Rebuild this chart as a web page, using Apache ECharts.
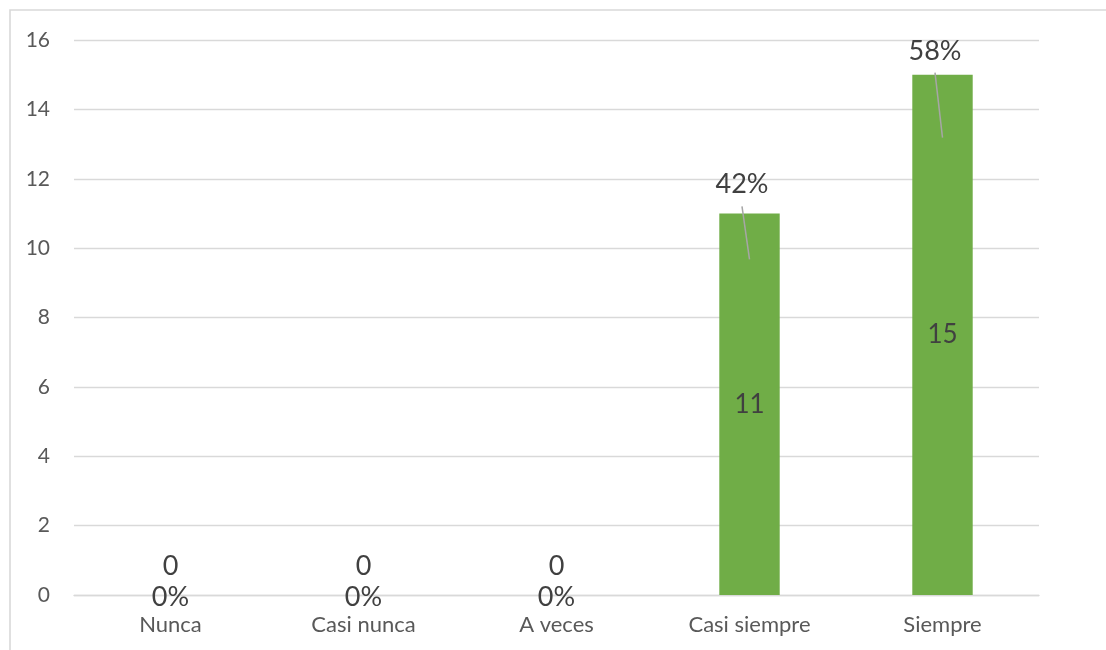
<!DOCTYPE html>
<html>
<head>
<meta charset="utf-8">
<title>Frecuencia de respuestas</title>
<script src="https://cdn.jsdelivr.net/npm/echarts@6/dist/echarts.min.js"></script>
<style>
  html, body { margin: 0; padding: 0; background: #ffffff; }
  #chart { width: 1106px; height: 650px; }
</style>
</head>
<body>
<div id="chart"></div>
<script>
// Response options and how many people chose each one
const categories = ['Nunca', 'Casi nunca', 'A veces', 'Casi siempre', 'Siempre'];
const counts = [0, 0, 0, 11, 15];
const yTicks = { min: 0, max: 16, interval: 2 };

// Share of the total for each option, rounded to whole percent
const total = counts.reduce((a, b) => a + b, 0);
const percents = counts.map(c => Math.round(c / total * 100) + '%');

// Placement of the percentage labels (pixels above the bar top) and their leader lines
const pctLift = [28, 28, 28, 28, 22];
const leaderTop = [7, 7, 7, 7, 2];
const leaderDrop = [46, 46, 46, 46, 63];

const FONT = 'Lato, "Open Sans", sans-serif';
const TEXT_DARK = '#404040';
const TEXT_AXIS = '#595959';
const GRID = '#D9D9D9';
const GREEN = '#70AD47';

const chart = echarts.init(document.getElementById('chart'), null, { renderer: 'canvas' });

chart.setOption({
  backgroundColor: '#ffffff',
  animation: false,
  textStyle: { fontFamily: FONT },
  graphic: [{
    type: 'rect',
    shape: { x: 10, y: 10, width: 1200, height: 800 },
    style: { fill: 'none', stroke: GRID, lineWidth: 1.6 },
    z: -10
  }],
  grid: { left: 74, right: 67, top: 40, bottom: 55, containLabel: false },
  xAxis: {
    type: 'category',
    data: categories,
    axisTick: { show: false },
    axisLine: { lineStyle: { color: GRID, width: 1.4 } },
    axisLabel: { color: TEXT_AXIS, fontSize: 22, fontFamily: FONT, margin: 19 }
  },
  yAxis: {
    type: 'value',
    min: yTicks.min,
    max: yTicks.max,
    interval: yTicks.interval,
    axisLine: { show: false },
    axisTick: { show: false },
    axisLabel: { color: TEXT_AXIS, fontSize: 21, fontFamily: FONT, margin: 24 },
    splitLine: { lineStyle: { color: GRID, width: 1.4 } }
  },
  series: [
    {
      type: 'bar',
      data: counts,
      barWidth: '31.3%',
      itemStyle: { color: GREEN },
      label: {
        show: true,
        position: 'inside',
        color: TEXT_DARK,
        fontSize: 26,
        fontFamily: FONT,
        formatter: p => (p.value === 0 ? '' : String(p.value))
      },
      z: 2
    },
    {
      // Percentage labels with leader lines; zero bars show count and share at the baseline
      type: 'custom',
      data: counts.map((c, i) => [i, c]),
      z: 5,
      silent: true,
      renderItem: function (params, api) {
        const i = params.dataIndex;
        const v = api.value(1);
        const base = api.coord([i, 0]);
        const top = api.coord([i, v]);
        const txt = (text, x, y) => ({
          type: 'text',
          style: {
            x: x, y: y, text: text,
            fill: TEXT_DARK, font: '27px ' + FONT,
            align: 'center', verticalAlign: 'middle'
          }
        });
        if (v === 0) {
          return {
            type: 'group',
            children: [
              txt(String(v), base[0], base[1] - 29),
              txt(percents[i], base[0], base[1] + 2)
            ]
          };
        }
        const lx = top[0] - 7.5;
        return {
          type: 'group',
          children: [
            {
              type: 'line',
              shape: { x1: lx, y1: top[1] - leaderTop[i], x2: top[0], y2: top[1] + leaderDrop[i] },
              style: { stroke: '#A6A6A6', lineWidth: 1.5 }
            },
            txt(percents[i], lx, top[1] - pctLift[i] - 1)
          ]
        };
      }
    }
  ]
});
</script>
</body>
</html>
